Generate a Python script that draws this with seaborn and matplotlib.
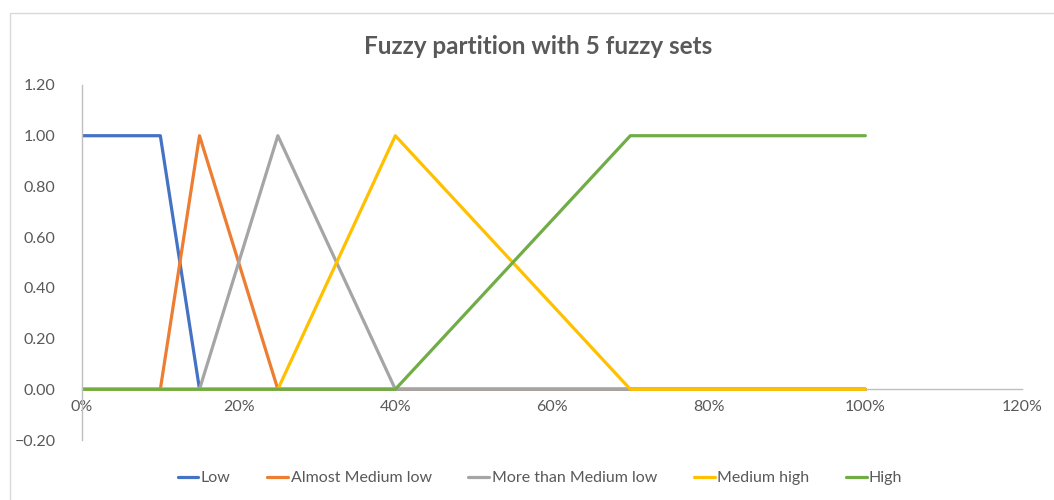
import pandas as pd
import matplotlib.pyplot as plt
import matplotlib.ticker as mticker
from matplotlib.patches import Rectangle
import seaborn as sns

# Data (x as fraction, membership 0..1)
x_vals = [0.0, 0.10, 0.15, 0.25, 0.40, 0.70, 1.00]
low = [1, 1, 0, 0, 0, 0, 0]
almost_medium_low = [0, 0, 1, 0, 0, 0, 0]
more_than_medium_low = [0, 0, 0, 1, 0, 0, 0]
medium_high = [0, 0, 0, 0, 1, 0, 0]
high = [0, 0, 0, 0, 0, 1, 1]

series_names = ['Low', 'Almost Medium low', 'More than Medium low', 'Medium high', 'High']
series_vals = [low, almost_medium_low, more_than_medium_low, medium_high, high]
colors = ['#4472C4', '#ED7D31', '#A5A5A5', '#FFC000', '#70AD47']

rows = []
for name, vals in zip(series_names, series_vals):
    for x, y in zip(x_vals, vals):
        rows.append({'x': x, 'y': y, 'set': name})
df = pd.DataFrame(rows)

sns.set_style('white')
plt.rcParams['font.family'] = ['Lato', 'DejaVu Sans']

fig = plt.figure(figsize=(10.54, 5.0), dpi=100)
ax = fig.add_axes([82 / 1054, 60 / 500, 940 / 1054, 355 / 500])

sns.lineplot(data=df, x='x', y='y', hue='set', hue_order=series_names,
             palette=colors, linewidth=2.3, ax=ax, sort=False,
             solid_joinstyle='round', solid_capstyle='round')

ax.set_xlim(0, 1.2)
ax.set_ylim(-0.2, 1.2)
ax.set_xticks([0, 0.2, 0.4, 0.6, 0.8, 1.0, 1.2])
ax.set_yticks([-0.2, 0, 0.2, 0.4, 0.6, 0.8, 1.0, 1.2])
ax.xaxis.set_major_formatter(mticker.FuncFormatter(lambda v, p: f'{v * 100:.0f}%'))
ax.yaxis.set_major_formatter(mticker.FuncFormatter(lambda v, p: f'{v:.2f}'.replace('-', '\u2212')))
ax.set_xlabel('')
ax.set_ylabel('')
ax.tick_params(axis='both', length=0, labelsize=11.5, colors='#595959')
ax.tick_params(axis='x', pad=8)
ax.tick_params(axis='y', pad=19)

for side in ['top', 'right']:
    ax.spines[side].set_visible(False)
ax.spines['bottom'].set_position(('data', 0))
ax.spines['bottom'].set_color('#BFBFBF')
ax.spines['left'].set_color('#BFBFBF')
ax.spines['bottom'].set_linewidth(1.0)
ax.spines['left'].set_linewidth(1.0)
ax.spines['bottom'].set_zorder(0)

ax.legend_.remove()
handles, labels = ax.get_legend_handles_labels()
fig.legend(handles, labels, loc='center', bbox_to_anchor=(540 / 1054, 22 / 500),
           ncol=5, frameon=False, fontsize=11.5, labelcolor='#595959',
           handlelength=1.3, handletextpad=0.15, columnspacing=2.3)

fig.text(538 / 1054, 1 - 46 / 500, 'Fuzzy partition with 5 fuzzy sets',
         ha='center', va='center', fontsize=17.5, fontweight='bold', color='#595959')

# chart area border
fig.patches.append(Rectangle((10 / 1054, -0.1), 1.2, 1 - 13 / 500 + 0.1,
                             transform=fig.transFigure, fill=False,
                             edgecolor='#D9D9D9', linewidth=1.0))

fig.savefig('out.png', dpi=100)
